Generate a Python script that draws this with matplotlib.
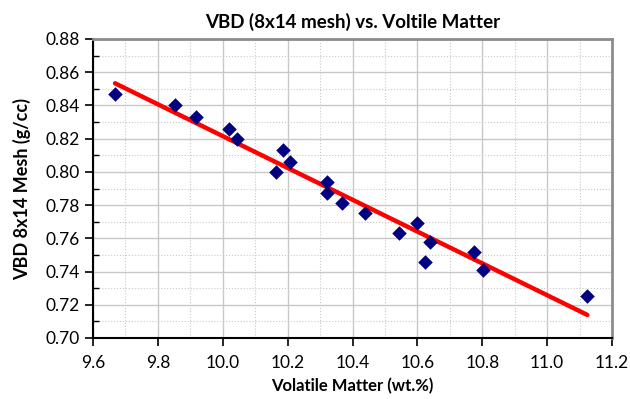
import numpy as np
import matplotlib
matplotlib.use("Agg")
from matplotlib import pyplot as plt
from matplotlib.ticker import MultipleLocator

# volatile matter (wt.%) and VBD 8x14 mesh (g/cc)
volatile = [9.668, 9.853, 9.918, 10.020, 10.043, 10.164, 10.187, 10.207,
            10.320, 10.320, 10.367, 10.438, 10.543, 10.600, 10.625, 10.639,
            10.775, 10.801, 11.124]
vbd = [0.847, 0.840, 0.833, 0.826, 0.820, 0.800, 0.813, 0.806,
       0.794, 0.787, 0.781, 0.775, 0.763, 0.769, 0.746, 0.758,
       0.752, 0.741, 0.725]

plt.rcParams['font.family'] = ['Lato', 'DejaVu Sans']

fig = plt.figure(figsize=(6.3, 3.99), dpi=100)
ax = fig.add_axes([93/630, 1 - 338/399, (612-93)/630, (338-39)/399])

# linear trendline (like excel)
slope, icpt = np.polyfit(volatile, vbd, 1)
xs = np.array([min(volatile), max(volatile)])
ax.plot(xs, slope*xs + icpt, color='#ff0000', lw=3.2, solid_capstyle='round', zorder=3)

ax.scatter(volatile, vbd, marker='D', s=55, color='#000080', zorder=4, linewidths=0)

ax.set_xlim(9.6, 11.2)
ax.set_ylim(0.70, 0.88)
ax.xaxis.set_major_locator(MultipleLocator(0.2))
ax.xaxis.set_minor_locator(MultipleLocator(0.1))
ax.yaxis.set_major_locator(MultipleLocator(0.02))
ax.yaxis.set_minor_locator(MultipleLocator(0.01))
ax.xaxis.set_major_formatter(matplotlib.ticker.FormatStrFormatter('%.1f'))
ax.yaxis.set_major_formatter(matplotlib.ticker.FormatStrFormatter('%.2f'))

ax.grid(which='major', color='#c8c8c8', lw=1.0, ls='-')
ax.grid(which='minor', color='#c8c8c8', lw=0.8, ls=':')
ax.set_axisbelow(True)

ax.tick_params(which='major', direction='out', length=6, width=1.2, labelsize=12.5, colors='black')
ax.tick_params(axis='x', which='major', pad=6)
ax.tick_params(axis='x', which='minor', length=0)
ax.tick_params(axis='y', which='minor', direction='in', length=4, width=1.0)

for s in ['left', 'bottom']:
    ax.spines[s].set_color('black')
    ax.spines[s].set_linewidth(1.5)
for s in ['top', 'right']:
    ax.spines[s].set_color('#8c8c8c')
    ax.spines[s].set_linewidth(2)

ax.set_title('VBD (8x14 mesh) vs. Voltile Matter', fontsize=13.5, fontweight='bold', pad=8)
ax.set_xlabel('Volatile Matter (wt.%)', fontsize=12, fontweight='bold', labelpad=5)
ax.set_ylabel('VBD 8x14 Mesh (g/cc)', fontsize=13, fontweight='bold', labelpad=10)

fig.savefig('out.png', dpi=100)
